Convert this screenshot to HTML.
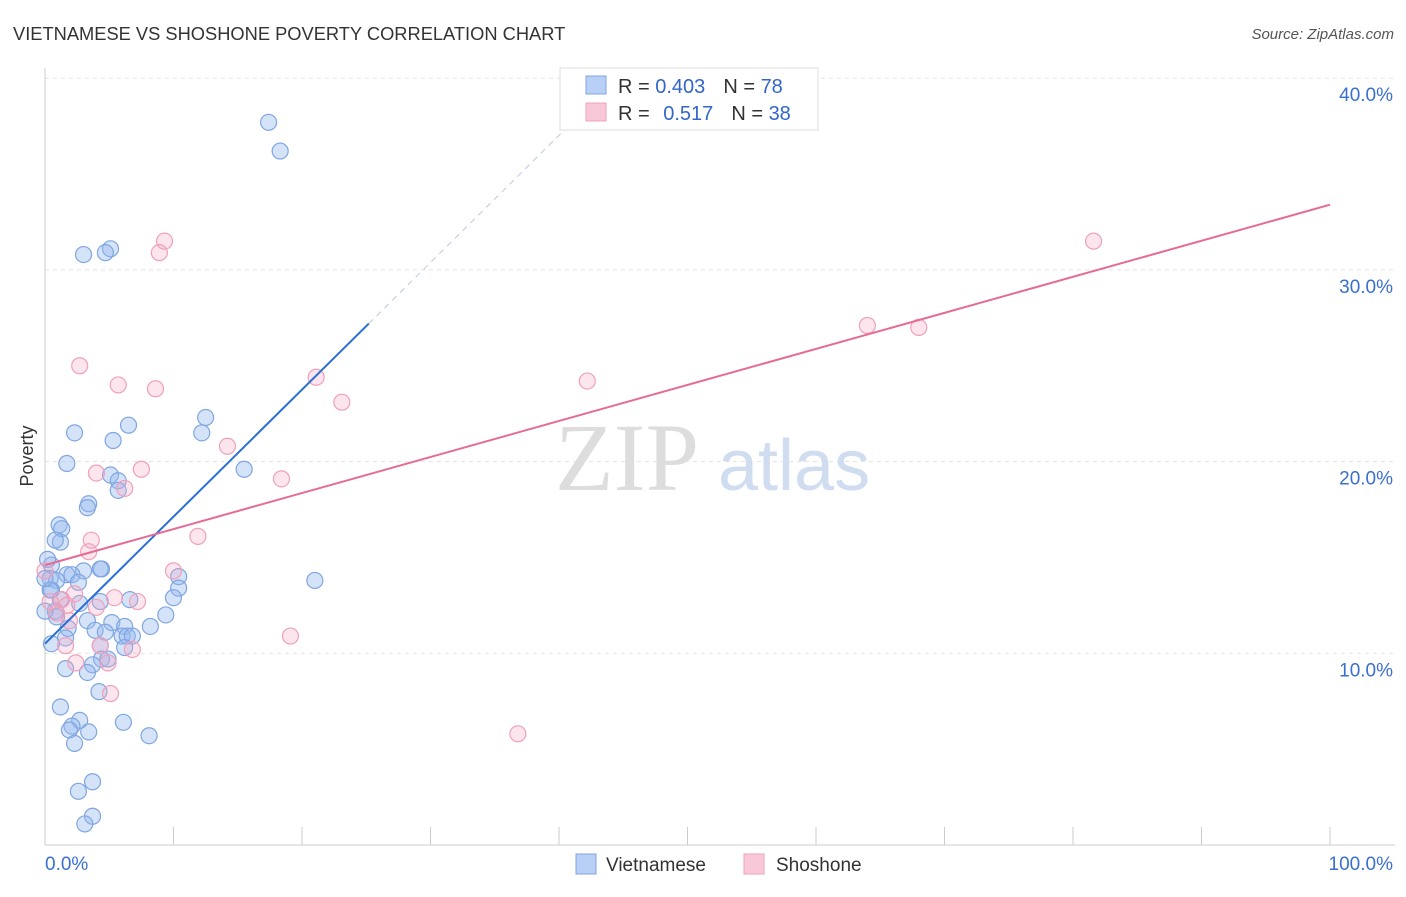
<!DOCTYPE html>
<html><head><meta charset="utf-8"><style>
body{margin:0;background:#fff;font-family:"Liberation Sans",sans-serif}
</style></head><body>
<svg width="1406" height="892" xmlns="http://www.w3.org/2000/svg" style="font-family:'Liberation Sans',sans-serif">
<text x="13" y="40" font-size="18.3" fill="#333">VIETNAMESE VS SHOSHONE POVERTY CORRELATION CHART</text>
<text x="1394" y="39" font-size="15" fill="#555" font-style="italic" text-anchor="end">Source: ZipAtlas.com</text>
<g id="grid"></g>
<g id="axes"></g>
<text x="555" y="490" font-size="96" fill="#ddd" font-family="'Liberation Serif',serif">ZIP</text>
<text x="718" y="490" font-size="72" fill="#d0dcf0">atlas</text>
<g id="pts"></g>
<g id="lines"></g>
<text transform="translate(33,456) rotate(-90)" font-size="18" fill="#333" text-anchor="middle">Poverty</text>
<g>
<rect x="560" y="68" width="258" height="62" fill="#fff" stroke="#ddd"/>
<rect x="586" y="76" width="20" height="18" fill="#b8d0f5" stroke="#7fa6e0"/>
<rect x="586" y="103" width="20" height="18" fill="#f8c8d8" stroke="#f0a0bb"/>
<text x="618" y="93" font-size="20" fill="#333">R = <tspan fill="#3366cc">0.403</tspan><tspan dx="18">N = </tspan><tspan fill="#3366cc">78</tspan></text>
<text x="618" y="120" font-size="20" fill="#333">R = <tspan dx="8" fill="#3366cc">0.517</tspan><tspan dx="18">N = </tspan><tspan fill="#3366cc">38</tspan></text>
</g>
<g>
<rect x="576" y="854" width="20" height="20" fill="#b8d0f5" stroke="#7fa6e0"/>
<text x="606" y="871" font-size="19" fill="#333">Vietnamese</text>
<rect x="744" y="854" width="20" height="20" fill="#f8c8d8" stroke="#f0a0bb"/>
<text x="776" y="871" font-size="19" fill="#333">Shoshone</text>
</g>
</svg>
<script>
const yTicks=[10,20,30,40];
const yTickLabels=["10.0%","20.0%","30.0%","40.0%"];
const xTicks=[0,10,20,30,40,50,60,70,80,90,100];
const blueX=[17.4,18.3,3.0,5.1,4.7,2.3,6.5,5.3,1.7,12.5,12.2,15.5,5.1,5.7,5.7,3.4,3.3,1.1,1.3,1.2,0.8,0.5,3.0,4.4,4.3,1.7,2.1,0.4,0.9,2.6,10.4,10.4,21.0,10.0,6.6,4.3,0.5,1.2,2.7,0.8,0.9,0.0,3.3,5.2,6.2,9.4,8.2,1.8,3.9,4.7,6.0,6.4,6.8,1.6,0.5,4.3,6.2,4.4,4.9,3.7,1.6,3.3,4.2,1.2,2.7,2.1,1.9,3.4,6.1,8.1,2.3,3.7,2.6,3.7,3.1,0.4,0.2,0.0];
const blueY=[37.7,36.2,30.8,31.1,30.9,21.5,21.9,21.1,19.9,22.3,21.5,19.6,19.3,19.0,18.5,17.8,17.6,16.7,16.5,15.8,15.9,14.6,14.3,14.4,14.4,14.1,14.1,13.9,13.8,13.7,14.0,13.4,13.8,12.9,12.8,12.7,13.3,12.8,12.6,12.2,11.9,12.2,11.7,11.6,11.4,12.0,11.4,11.3,11.2,11.1,10.9,10.9,10.9,10.8,10.5,10.4,10.3,9.7,9.7,9.4,9.2,9.0,8.0,7.2,6.5,6.2,6.0,5.9,6.4,5.7,5.3,3.3,2.8,1.5,1.1,13.3,14.9,13.9];
const pinkX=[9.3,8.9,2.7,5.7,8.6,21.1,23.1,42.2,14.2,7.5,4.0,6.2,18.4,11.9,10.0,3.6,3.4,81.6,64.0,68.0,5.4,7.2,1.3,1.7,0.9,2.3,1.9,4.0,1.6,4.9,6.8,2.4,5.1,19.1,36.8,0.0,0.4,4.3];
const pinkY=[31.5,30.9,25.0,24.0,23.8,24.4,23.1,24.2,20.8,19.6,19.4,18.6,19.1,16.1,14.3,15.9,15.3,31.5,27.1,27.0,12.9,12.7,12.8,12.5,12.1,13.1,11.7,12.4,10.4,9.5,10.2,9.5,7.9,10.9,5.8,14.3,12.7,10.4];
const blueTrend=[0,10.5,25.2,27.2,44.5,40.0];
const pinkTrend=[0,14.6,100,33.4];
const NS="http://www.w3.org/2000/svg";
const X=v=>45+v*12.85, Y=v=>845-v*19.17;
function mk(t,a,p){const e=document.createElementNS(NS,t);for(const k in a)e.setAttribute(k,a[k]);p.appendChild(e);return e;}
const grid=document.getElementById('grid'),axes=document.getElementById('axes');
yTicks.forEach((t,i)=>{
 const l=mk('line',{x1:45,x2:1395,y1:Y(t),y2:Y(t),stroke:'#e2e2e2','stroke-dasharray':'4,4'},grid);
 
 
 const tx=mk('text',{x:1393,y:Y(t)+23,'font-size':19,fill:'#3a6fd0','text-anchor':'end'},axes);
 tx.textContent=yTickLabels[i];
 
 
});
mk('line',{x1:45,x2:45,y1:68,y2:845,stroke:'#ccc'},axes);
mk('line',{x1:45,x2:1395,y1:845,y2:845,stroke:'#ccc'},axes);
xTicks.forEach(t=>{const l=mk('line',{x1:X(t),x2:X(t),y1:827,y2:845,stroke:'#ccc'},axes);
 
 });
let a=mk('text',{x:45,y:870,'font-size':19,fill:'#3a6fd0'},axes);a.textContent='0.0%';

a=mk('text',{x:1393,y:870,'font-size':19,fill:'#3a6fd0','text-anchor':'end'},axes);a.textContent='100.0%';

const pts=document.getElementById('pts');
blueX.forEach((x,i)=>{const c=mk('circle',{cx:X(x),cy:Y(blueY[i]),r:8,fill:'rgba(150,185,240,0.4)',stroke:'#7fa6e0','stroke-width':1.2},pts);
 
 });
pinkX.forEach((x,i)=>{const c=mk('circle',{cx:X(x),cy:Y(pinkY[i]),r:8,fill:'rgba(245,170,195,0.3)',stroke:'#f0a0bb','stroke-width':1.2},pts);
 
 });
const L=document.getElementById('lines');
let ln=mk('line',{x1:X(blueTrend[0]),y1:Y(blueTrend[1]),x2:X(blueTrend[2]),y2:Y(blueTrend[3]),stroke:'#2a6fd6','stroke-width':2},L);


ln=mk('line',{x1:X(blueTrend[2]),y1:Y(blueTrend[3]),x2:X(blueTrend[4]),y2:Y(blueTrend[5]),stroke:'#bbc8dd','stroke-width':1,'stroke-dasharray':'6,5'},L);


ln=mk('line',{x1:X(pinkTrend[0]),y1:Y(pinkTrend[1]),x2:X(pinkTrend[2]),y2:Y(pinkTrend[3]),stroke:'#e56a95','stroke-width':2},L);


</script>
</body></html>
